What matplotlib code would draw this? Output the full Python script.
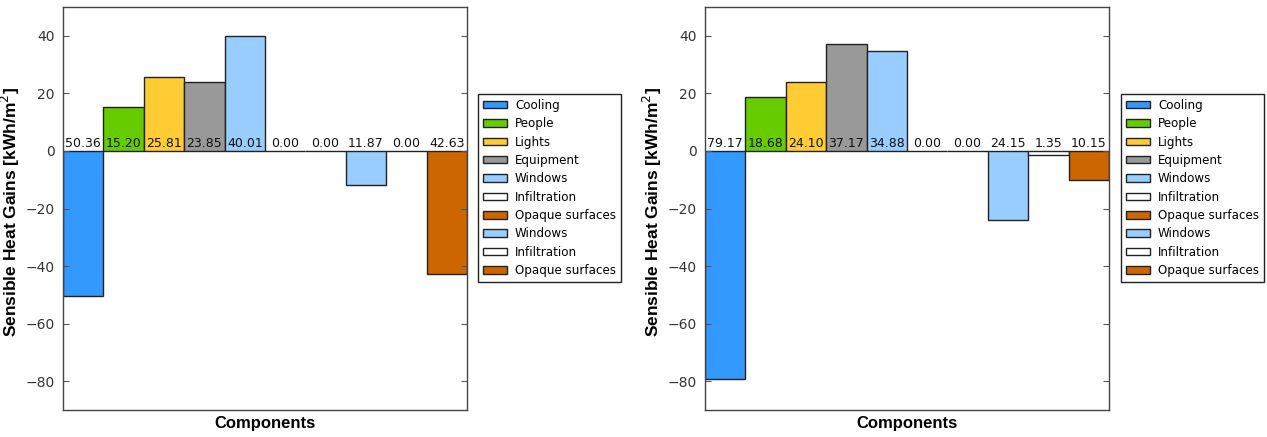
import numpy as np
import matplotlib.pyplot as plt

# =============================================================================
# Data

components = ["Cooling", "People", "Lights", "Equipment", "Windows",
              "Infiltration", "Opaque surfaces", "Windows", "Infiltration",
              "Opaque surfaces"]
colours = ["#3399ff", "#66cc00", "#ffcc33", "#999999", "#99ccff",
           "#ffffff", "#cc6600", "#99ccff", "#ffffff", "#cc6600"]

gains_left = [-50.36, 15.20, 25.81, 23.85, 40.01, 0.00, 0.00, -11.87, 0.00, -42.63]
gains_right = [-79.17, 18.68, 24.10, 37.17, 34.88, 0.00, 0.00, -24.15, -1.35, -10.15]

yticks = [-80, -60, -40, -20, 0, 20, 40]

# =============================================================================
# Plot

W, H = 1267, 437
fg = plt.figure(figsize=(W / 100, H / 100), dpi=100)

# axes boxes in pixels: left, top, right, bottom
boxes = [(63, 7, 467, 410), (705, 7, 1109, 410)]
legend_xy = [(478, 94), (1121, 94)]

for (l, t, r, b), (lx, ly), gains in zip(boxes, legend_xy, [gains_left, gains_right]):
    ax = fg.add_axes([l / W, 1 - b / H, (r - l) / W, (b - t) / H])
    x = np.arange(len(gains))
    bars = ax.bar(x, gains, width=1.0, align="edge", color=colours,
                  edgecolor="#222222", linewidth=1.0)
    for xi, g in zip(x, gains):
        ax.text(xi + 0.5, 0.3, f"{abs(g):.2f}", ha="center", va="bottom",
                fontsize=9, color="#111111")

    ax.set_xlim(0, len(gains))
    ax.set_ylim(-90, 50)
    ax.set_xticks([])
    ax.set_yticks(yticks)
    ax.set_yticklabels([f"\u2212{-v}" if v < 0 else str(v) for v in yticks])
    ax.tick_params(axis="y", direction="in", length=4, right=True, left=True,
                   labelsize=10, labelcolor="#333333", color="#555555", pad=6)
    for sp in ax.spines.values():
        sp.set_color("#444444")
        sp.set_linewidth(1.0)

    ax.set_ylabel(r"Sensible Heat Gains [kWh/m$^2$]", fontsize=12.5,
                  fontweight="bold", family="Liberation Sans")
    ax.yaxis.set_label_coords(-41 / (r - l), 0.49)
    ax.set_xlabel("Components", fontsize=12, fontweight="bold",
                  family="Liberation Sans", labelpad=4)

    leg = ax.legend(bars, components, loc="upper left",
                    bbox_to_anchor=(lx / W, 1 - ly / H),
                    bbox_transform=fg.transFigure, borderaxespad=0,
                    fontsize=8.6, fancybox=False, framealpha=1,
                    edgecolor="#222222", labelspacing=0.45,
                    handlelength=2.0, handleheight=0.6, handletextpad=0.7)
    leg.get_frame().set_linewidth(1.0)

fg.savefig("out.png", dpi=100)
